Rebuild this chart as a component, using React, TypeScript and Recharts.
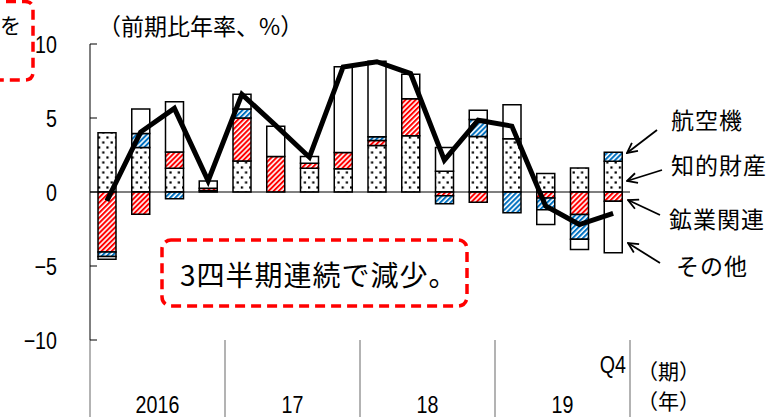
import { Bar, ComposedChart, Line, ReferenceLine, XAxis, YAxis } from 'recharts';

// Quarterly contributions (% points, annualized q/q), 2016Q1 .. 2019Q4
const PERIODS = [
  '2016Q1', '2016Q2', '2016Q3', '2016Q4',
  '2017Q1', '2017Q2', '2017Q3', '2017Q4',
  '2018Q1', '2018Q2', '2018Q3', '2018Q4',
  '2019Q1', '2019Q2', '2019Q3', '2019Q4',
];
const YEAR_LABELS = ['2016', '17', '18', '19'];

const INTELLECTUAL = [4.0, 3.0, 1.6, 0.1, 2.1, 0, 1.6, 1.57, 3.15, 3.8, 1.4, 3.75, 3.6, 1.25, 1.63, 2.08];
const MINING = [-4.05, -1.5, 1.1, 0.15, 2.9, 2.4, 0.35, 1.1, 0.33, 2.5, -0.25, -0.7, 0, -0.4, -1.52, -0.62];
const AIRCRAFT = [-0.3, 0.95, -0.45, 0, 0.6, 0, 0, 0, 0.25, 0, -0.55, 1.15, -1.4, -0.8, -1.68, 0.61];
const OTHER = [-0.2, 1.65, 3.4, 0.5, 1.0, 2.05, 0.45, 5.8, 5.1, 1.65, 1.6, 0.63, 2.3, -1.0, -0.69, -3.49];
const TOTAL = [-0.6, 4.05, 5.65, 0.75, 6.6, 4.5, 2.35, 8.45, 8.8, 8.0, 2.15, 4.85, 4.45, -0.95, -2.2, -1.45];

const Y_TICKS = [-10, -5, 0, 5, 10];

const rows = PERIODS.map((period, i) => ({
  period,
  intellectual: INTELLECTUAL[i],
  mining: MINING[i],
  aircraft: AIRCRAFT[i],
  other: OTHER[i],
  total: TOTAL[i],
}));

const WIDTH = 767;
const HEIGHT = 417;
const Y_AXIS_W = 90;
const X_AXIS_H = 77;
const MARGIN = { top: 44, right: 137, bottom: 0, left: 0 };
const BAND = (WIDTH - MARGIN.left - MARGIN.right - Y_AXIS_W) / PERIODS.length;

const NUM_FONT = '"Liberation Sans", Arial, sans-serif';
const JP_FONT = '"Noto Sans CJK JP", "Noto Sans", sans-serif';
const RED = '#ff0000';
const BLUE = '#0070c0';
const NARROW = 0.82;

const fmt = (v: number) => (v < 0 ? `\u2212${Math.abs(v)}` : `${v}`);

// Numbers are set in a condensed face: squeeze regular glyphs horizontally
function NarrowText({ x, y, anchor, children }: { x: number; y: number; anchor: 'start' | 'middle' | 'end'; children: any }) {
  return (
    <text
      transform={`translate(${x},${y}) scale(${NARROW},1)`}
      textAnchor={anchor}
      fontFamily={NUM_FONT}
      fontSize={24}
      fill="#000"
    >
      {children}
    </text>
  );
}

function ValueTick({ x, y, payload }: any) {
  return (
    <g>
      <line x1={x} x2={x + 7} y1={y} y2={y} stroke="#000" strokeWidth={1} />
      <NarrowText x={x - 33} y={y + 8.5} anchor="end">{fmt(payload.value)}</NarrowText>
    </g>
  );
}

function PeriodTick({ x, y, index }: any) {
  const quarter = index % 4;
  const isLast = index === PERIODS.length - 1;
  return (
    <g>
      {quarter === 0 && (
        <line x1={x - BAND / 2} x2={x - BAND / 2} y1={y} y2={y + X_AXIS_H} stroke="#808080" strokeWidth={1.2} />
      )}
      {isLast && (
        <>
          <line x1={x + BAND / 2} x2={x + BAND / 2} y1={y} y2={y + X_AXIS_H} stroke="#808080" strokeWidth={1.2} />
          <NarrowText x={x + BAND / 2 - 4} y={y + 33} anchor="end">Q4</NarrowText>
        </>
      )}
      {quarter === 1 && (
        <NarrowText x={x + BAND / 2} y={y + 73} anchor="middle">
          {YEAR_LABELS[Math.floor(index / 4)]}
        </NarrowText>
      )}
    </g>
  );
}

function Patterns() {
  return (
    <svg width={0} height={0} style={{ position: 'absolute' }}>
      <defs>
        <pattern id="dots" width={8.4} height={10} patternUnits="userSpaceOnUse">
          <rect width={8.4} height={10} fill="#fff" />
          <rect x={1.4} y={1.4} width={2.2} height={2.2} fill="#000" />
          <rect x={5.6} y={6.4} width={2.2} height={2.2} fill="#000" />
        </pattern>
        <pattern id="red-stripes" width={3.6} height={3.6} patternUnits="userSpaceOnUse" patternTransform="rotate(45)">
          <rect width={3.6} height={3.6} fill="#fff" />
          <rect width={2} height={3.6} fill={RED} />
        </pattern>
        <pattern id="blue-stripes" width={3.6} height={3.6} patternUnits="userSpaceOnUse" patternTransform="rotate(45)">
          <rect width={3.6} height={3.6} fill="#fff" />
          <rect width={2} height={3.6} fill={BLUE} />
        </pattern>
        <marker id="arrow" viewBox="0 0 12 12" refX={11} refY={6} markerWidth={12} markerHeight={12} markerUnits="userSpaceOnUse" orient="auto">
          <path d="M1,1 L11,6 L1,11" fill="none" stroke="#000" strokeWidth={1.8} />
        </marker>
      </defs>
    </svg>
  );
}

// Series labels to the right of the last bar, each with an arrow to its segment
const CALLOUTS = [
  { text: '航空機', x: 671, y: 129, from: [657, 130], to: [627, 153] },
  { text: '知的財産', x: 671, y: 174, from: [662, 170], to: [627, 181] },
  { text: '鉱業関連', x: 669, y: 228, from: [660, 215], to: [628, 200] },
  { text: 'その他', x: 676, y: 275, from: [660, 263], to: [628, 243] },
];

function Overlay() {
  return (
    <svg width={WIDTH} height={HEIGHT} style={{ position: 'absolute', left: 0, top: 0, pointerEvents: 'none' }}>
      {/* edge of a neighbouring note box */}
      <path
        d="M -10 1.5 L 25 1.5 Q 33 1.5 33 9.5 L 33 72 Q 33 80 25 80 L -10 80"
        fill="none"
        stroke={RED}
        strokeWidth={3.5}
        strokeDasharray="10 6"
      />
      <text x={0} y={33} fontFamily={JP_FONT} fontSize={21} fill="#000">を</text>

      <text x={98} y={35} fontFamily={JP_FONT} fontSize={23} fill="#000">（前期比年率、%）</text>

      <rect x={162} y={240} width={305} height={66} rx={9} fill="#fff" stroke={RED} strokeWidth={3.5} strokeDasharray="10 6" />
      <text x={180} y={286} fontFamily={JP_FONT} fontSize={28} letterSpacing={1} fill="#000">3四半期連続で減少。</text>

      {CALLOUTS.map((c) => (
        <g key={c.text}>
          <text x={c.x} y={c.y} fontFamily={JP_FONT} fontSize={23} letterSpacing={1} fill="#000">{c.text}</text>
          <line x1={c.from[0]} y1={c.from[1]} x2={c.to[0]} y2={c.to[1]} stroke="#000" strokeWidth={1.8} markerEnd="url(#arrow)" />
        </g>
      ))}

      <text x={637} y={379} fontFamily={JP_FONT} fontSize={21} fill="#000">（期）</text>
      <text x={637} y={409} fontFamily={JP_FONT} fontSize={21} fill="#000">（年）</text>
    </svg>
  );
}

export default function App() {
  return (
    <div style={{ position: 'absolute', left: 0, top: 0, width: WIDTH, height: HEIGHT, background: '#fff', overflow: 'hidden' }}>
      <Patterns />
      <ComposedChart width={WIDTH} height={HEIGHT} data={rows} stackOffset="sign" margin={MARGIN}>
        <XAxis
          dataKey="period"
          height={X_AXIS_H}
          axisLine={false}
          tickLine={false}
          tickSize={0}
          tickMargin={0}
          interval={0}
          tick={<PeriodTick />}
        />
        <YAxis
          width={Y_AXIS_W}
          domain={[-10, 10]}
          ticks={Y_TICKS}
          axisLine={{ stroke: '#000', strokeWidth: 1 }}
          tickLine={false}
          tickSize={0}
          tickMargin={0}
          tick={<ValueTick />}
        />
        <ReferenceLine y={0} stroke="#000" strokeWidth={1.2} />
        <Bar dataKey="intellectual" stackId="s" barSize={18} fill="url(#dots)" stroke="#000" strokeWidth={1.5} isAnimationActive={false} />
        <Bar dataKey="mining" stackId="s" barSize={18} fill="url(#red-stripes)" stroke="#000" strokeWidth={1.5} isAnimationActive={false} />
        <Bar dataKey="aircraft" stackId="s" barSize={18} fill="url(#blue-stripes)" stroke="#000" strokeWidth={1.5} isAnimationActive={false} />
        <Bar dataKey="other" stackId="s" barSize={18} fill="#fff" stroke="#000" strokeWidth={1.5} isAnimationActive={false} />
        <Line dataKey="total" type="linear" stroke="#000" strokeWidth={5} dot={false} activeDot={false} isAnimationActive={false} />
      </ComposedChart>
      <Overlay />
    </div>
  );
}
